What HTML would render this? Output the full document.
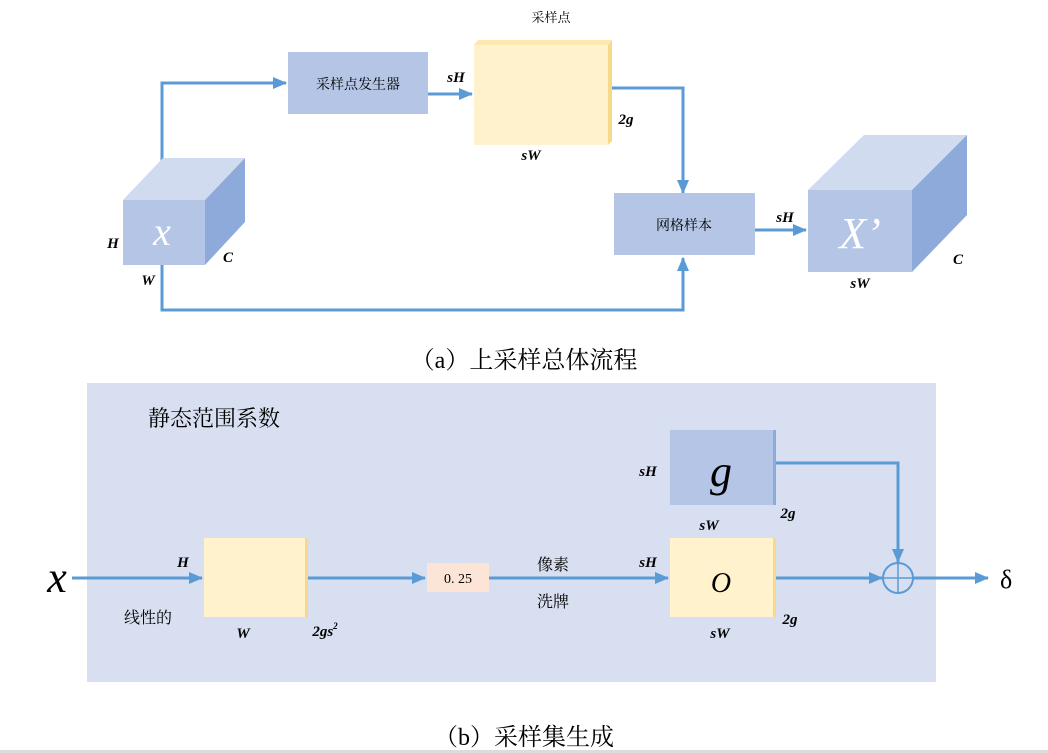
<!DOCTYPE html>
<html><head><meta charset="utf-8"><style>
html,body{margin:0;padding:0;background:#fff;}
svg{display:block;}
.cn{font-family:"Liberation Serif","Noto Serif CJK SC","Noto Sans CJK SC",serif;}
.it{font-family:"Liberation Serif",serif;font-style:italic;font-weight:bold;}
</style></head><body>
<svg width="1048" height="753" viewBox="0 0 1048 753" xmlns="http://www.w3.org/2000/svg">
<defs>
<marker id="ar" markerWidth="10" markerHeight="10" refX="9" refY="5" orient="auto" markerUnits="userSpaceOnUse">
<path d="M0,0 L10,5 L0,10 z" fill="#5b9bd5"/></marker>
<marker id="ar2" markerWidth="14" markerHeight="12" refX="13" refY="6" orient="auto" markerUnits="userSpaceOnUse">
<path d="M0,0 L14,6 L0,12 z" fill="#5b9bd5"/></marker>
</defs>
<g stroke="#5b9bd5" stroke-width="3" fill="none">
<polyline points="162,200 162,83 286,83" marker-end="url(#ar2)"/>
<line x1="428" y1="94" x2="472" y2="94" marker-end="url(#ar2)"/>
<polyline points="162,265 162,310 683,310 683,258" marker-end="url(#ar2)"/>
<polyline points="612,88 683,88 683,193" marker-end="url(#ar2)"/>
<line x1="755" y1="230" x2="806" y2="230" marker-end="url(#ar2)"/>
</g>
<text x="551" y="22" class="cn" font-size="13" text-anchor="middle">采样点</text>
<rect x="288" y="52" width="140" height="62" fill="#b4c5e6"/>
<text x="358" y="89" class="cn" font-size="14" text-anchor="middle">采样点发生器</text>
<polygon points="474,45 478,40 612,40 608,45" fill="#fde9b0"/>
<polygon points="608,45 612,40 612,141 608,145" fill="#f8d98a"/>
<rect x="474" y="45" width="134" height="100" fill="#fff2cc"/>
<text x="456" y="82" class="it" font-size="15" text-anchor="middle">sH</text>
<text x="626" y="124" class="it" font-size="15" text-anchor="middle">2g</text>
<text x="531" y="160" class="it" font-size="15" text-anchor="middle">sW</text>
<!-- x cube -->
<polygon points="123,200 163,158 245,158 205,200" fill="#d0dbef"/>
<polygon points="205,200 245,158 245,222 205,265" fill="#8eaadb"/>
<rect x="123" y="200" width="82" height="65" fill="#b4c5e6"/>
<text x="162" y="245" font-family="Liberation Serif,serif" font-style="italic" font-size="40" fill="#fff" text-anchor="middle">x</text>
<text x="113" y="248" class="it" font-size="15" text-anchor="middle">H</text>
<text x="228" y="262" class="it" font-size="15" text-anchor="middle">C</text>
<text x="148" y="285" class="it" font-size="15" text-anchor="middle">W</text>
<rect x="614" y="193" width="141" height="62" fill="#b4c5e6"/>
<text x="684" y="230" class="cn" font-size="14" text-anchor="middle">网格样本</text>
<text x="785" y="222" class="it" font-size="15" text-anchor="middle">sH</text>
<!-- X' cube -->
<polygon points="808,190 864,135 967,135 912,190" fill="#d0dbef"/>
<polygon points="912,190 967,135 967,215 912,272" fill="#8eaadb"/>
<rect x="808" y="190" width="104" height="82" fill="#b4c5e6"/>
<text x="860" y="248" font-family="Liberation Serif,serif" font-style="italic" font-size="44" fill="#fff" text-anchor="middle">X’</text>
<text x="860" y="288" class="it" font-size="15" text-anchor="middle">sW</text>
<text x="958" y="264" class="it" font-size="15" text-anchor="middle">C</text>
<text x="524" y="368" class="cn" font-size="24" text-anchor="middle">（a）上采样总体流程</text>
<!-- panel b -->
<rect x="87" y="383" width="849" height="299" fill="#d7dff1"/>
<text x="148" y="426" class="cn" font-size="22">静态范围系数</text>
<rect x="670" y="430" width="103" height="75" fill="#b4c5e6"/>
<rect x="773" y="430" width="3" height="75" fill="#8eaadb"/>
<text x="721" y="486" font-family="Liberation Serif,serif" font-style="italic" font-size="44" text-anchor="middle">g</text>
<text x="648" y="476" class="it" font-size="15" text-anchor="middle">sH</text>
<text x="709" y="530" class="it" font-size="15" text-anchor="middle">sW</text>
<text x="788" y="518" class="it" font-size="15" text-anchor="middle">2g</text>
<rect x="670" y="538" width="103" height="79" fill="#fff2cc"/>
<rect x="773" y="538" width="3" height="79" fill="#f8d98a"/>
<text x="721" y="592" font-family="Liberation Serif,serif" font-style="italic" font-size="28" text-anchor="middle">O</text>
<text x="648" y="567" class="it" font-size="15" text-anchor="middle">sH</text>
<text x="720" y="638" class="it" font-size="15" text-anchor="middle">sW</text>
<text x="790" y="624" class="it" font-size="15" text-anchor="middle">2g</text>
<rect x="204" y="538" width="101" height="79" fill="#fff2cc"/>
<rect x="305" y="538" width="3" height="79" fill="#f8d98a"/>
<text x="183" y="567" class="it" font-size="15" text-anchor="middle">H</text>
<text x="243" y="638" class="it" font-size="15" text-anchor="middle">W</text>
<text x="325" y="636" class="it" font-size="15" text-anchor="middle">2gs<tspan font-size="9" dy="-7">2</tspan></text>
<text x="148" y="623" class="cn" font-size="16" text-anchor="middle">线性的</text>
<rect x="427" y="563" width="62" height="29" fill="#fce4d6"/>
<text x="458" y="583" class="cn" font-size="14" text-anchor="middle">0. 25</text>
<text x="553" y="570" class="cn" font-size="16" text-anchor="middle">像素</text>
<text x="553" y="607" class="cn" font-size="16" text-anchor="middle">洗牌</text>
<text x="57" y="592" font-family="Liberation Serif,serif" font-style="italic" font-size="44" text-anchor="middle">x</text>
<g stroke="#5b9bd5" stroke-width="3" fill="none">
<line x1="72" y1="578" x2="202" y2="578" marker-end="url(#ar2)"/>
<line x1="308" y1="578" x2="425" y2="578" marker-end="url(#ar2)"/>
<line x1="489" y1="578" x2="668" y2="578" marker-end="url(#ar2)"/>
<line x1="776" y1="578" x2="882" y2="578" marker-end="url(#ar2)"/>
<polyline points="776,463 898,463 898,562" marker-end="url(#ar2)"/>
<line x1="913" y1="578" x2="988" y2="578" marker-end="url(#ar2)"/>
<circle cx="898" cy="578" r="15" stroke-width="2"/>
<line x1="883" y1="578" x2="913" y2="578" stroke-width="1.5"/>
<line x1="898" y1="563" x2="898" y2="593" stroke-width="1.5"/>
</g>
<text x="1000" y="588" font-family="Liberation Serif,serif" font-size="26">δ</text>
<text x="524" y="745" class="cn" font-size="24" text-anchor="middle">（b）采样集生成</text>
<rect x="0" y="750" width="1048" height="3" fill="#dcdcdc"/>
</svg>
</body></html>
